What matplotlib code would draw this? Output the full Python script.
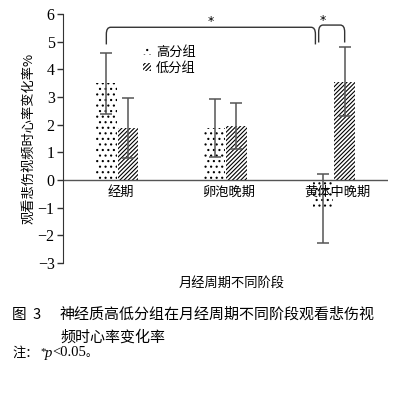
import matplotlib.pyplot as plt
import numpy as np
from matplotlib.patches import Patch, PathPatch
from matplotlib.path import Path

plt.rcParams['font.family'] = ['Noto Sans CJK SC', 'DejaVu Sans']
plt.rcParams['hatch.linewidth'] = 0.8

# data
phases = ['经期', '卵泡晚期', '黄体中晚期']
groups = ['高分组', '低分组']
highMean = [3.5, 1.87, -1.03]
highErr = [1.1, 1.05, 1.25]
lowMean = [1.87, 1.95, 3.55]
lowErr = [1.08, 0.82, 1.25]
yTicks = [-3, -2, -1, 0, 1, 2, 3, 4, 5, 6]

fig = plt.figure(figsize=(3.98, 3.96), dpi=100)
ax = fig.add_axes([63 / 398, (396 - 263) / 396, (388 - 63) / 398, (263 - 14) / 396])

index = np.arange(len(phases))
barWidth = 0.19
errStyle = dict(ecolor='#555555', elinewidth=1.1, capsize=4, capthick=1.1)
dotHatch = '...'
lineHatch = '////////'

ax.bar(index - 0.1, highMean, barWidth, color='white', edgecolor='black', linewidth=0,
       hatch=dotHatch, yerr=highErr, error_kw=errStyle, label=groups[0])
ax.bar(index + 0.1, lowMean, barWidth, color='white', edgecolor='black', linewidth=0,
       hatch=lineHatch, yerr=lowErr, error_kw=errStyle, label=groups[1])

ax.set_xlim(-0.5, 2.5)
ax.set_ylim(-3, 6)
ax.axhline(0, color='#555555', linewidth=1.0)
for s in ['top', 'right', 'bottom']:
    ax.spines[s].set_visible(False)
ax.spines['left'].set_color('#333333')
ax.set_yticks(yTicks)
ax.set_yticklabels(['\u2212' + str(-t) if t < 0 else str(t) for t in yTicks],
                   family='Liberation Serif', fontsize=11.5)
ax.tick_params(axis='y', direction='out', length=4, width=1, pad=2, color='#333333')
ax.set_xticks([])

for i, name in enumerate(phases):
    ax.text(i + 0.03, -0.2, name, ha='center', va='top', fontsize=9.5)

ax.set_ylabel('观看悲伤视频时心率变化率%', fontsize=9.5, labelpad=2)
fig.text(232 / 398, 1 - 283 / 396, '月经周期不同阶段', ha='center', va='center', fontsize=9.5)


# significance brackets with rounded corners
def bracket(x0, x1, yLow, yTop, r=0.04, rh=0.25):
    verts = [(x0, yLow), (x0, yTop - rh), (x0, yTop), (x0 + r, yTop),
             (x1 - r, yTop), (x1, yTop), (x1, yTop - rh), (x1, yLow)]
    codes = [Path.MOVETO, Path.LINETO, Path.CURVE3, Path.CURVE3,
             Path.LINETO, Path.CURVE3, Path.CURVE3, Path.LINETO]
    ax.add_patch(PathPatch(Path(verts, codes), facecolor='none', edgecolor='#333333',
                           linewidth=1.0, clip_on=False))


bracket(-0.1, 1.83, 4.9, 5.52)
bracket(1.86, 2.1, 4.97, 5.6)
ax.text(0.86, 5.72, '*', ha='center', va='center', fontsize=9, family='DejaVu Sans')
ax.text(1.9, 5.78, '*', ha='center', va='center', fontsize=9, family='DejaVu Sans')

handles = [Patch(facecolor='white', edgecolor='black', linewidth=0, hatch=dotHatch),
           Patch(facecolor='white', edgecolor='black', linewidth=0, hatch=lineHatch)]
ax.legend(handles, groups, loc='upper left', bbox_to_anchor=(0.23, 0.895), frameon=False,
          fontsize=9.5, handlelength=0.6, handleheight=0.6, handletextpad=0.4,
          labelspacing=0.25, borderaxespad=0)

# caption
fig.text(12 / 398, 1 - 315 / 396, '图  3', ha='left', va='center', fontsize=10.5)
fig.text(60 / 398, 1 - 315 / 396, '神经质高低分组在月经周期不同阶段观看悲伤视',
         ha='left', va='center', fontsize=10.8)
fig.text(60 / 398, 1 - 337 / 396, '频时心率变化率', ha='left', va='center', fontsize=10.8)
fig.text(12 / 398, 1 - 353 / 396, '注：', ha='left', va='center', fontsize=9.5)
fig.text(40 / 398, 1 - 352 / 396, '*', ha='left', va='center', fontsize=8,
         family='Liberation Serif')
fig.text(45 / 398, 1 - 353 / 396, 'p', ha='left', va='center', fontsize=10.5,
         family='Liberation Serif', style='italic')
fig.text(52 / 398, 1 - 353 / 396, '<0.05', ha='left', va='center', fontsize=10.5,
         family='Liberation Serif')
fig.text(86 / 398, 1 - 353 / 396, '。', ha='left', va='center', fontsize=8)

fig.savefig('out.png', dpi=100)
